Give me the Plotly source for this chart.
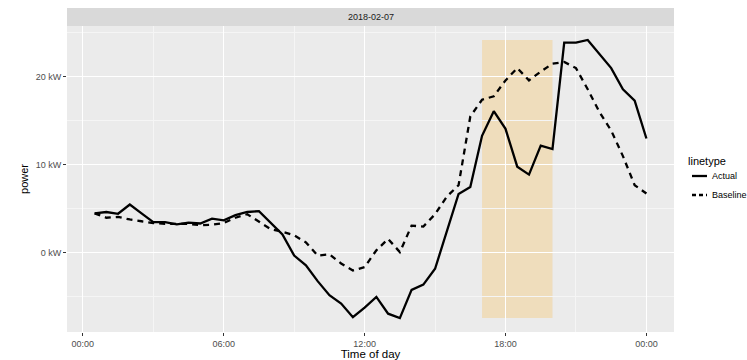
import plotly.graph_objects as go

time_labels = ["00:30", "01:00", "01:30", "02:00", "02:30", "03:00", "03:30", "04:00",
               "04:30", "05:00", "05:30", "06:00", "06:30", "07:00", "07:30", "08:00",
               "08:30", "09:00", "09:30", "10:00", "10:30", "11:00", "11:30", "12:00",
               "12:30", "13:00", "13:30", "14:00", "14:30", "15:00", "15:30", "16:00",
               "16:30", "17:00", "17:30", "18:00", "18:30", "19:00", "19:30", "20:00",
               "20:30", "21:00", "21:30", "22:00", "22:30", "23:00", "23:30", "24:00"]

actual = [4.5, 4.65, 4.45, 5.5, 4.5, 3.5, 3.5, 3.25,
          3.45, 3.35, 3.9, 3.7, 4.3, 4.65, 4.75, 3.4,
          2.1, -0.3, -1.4, -3.2, -4.8, -5.75, -7.3, -6.2,
          -5.0, -6.9, -7.4, -4.2, -3.6, -1.8, 2.4, 6.7,
          7.5, 13.3, 16.1, 14.1, 9.8, 8.9, 12.2, 11.8,
          23.9, 23.9, 24.2, 22.6, 21.0, 18.6, 17.3, 13.0]

baseline = [4.5, 4.0, 4.1, 3.8, 3.6, 3.4, 3.3, 3.3,
            3.3, 3.15, 3.2, 3.4, 4.0, 4.4, 3.5, 2.7,
            2.4, 2.0, 1.2, -0.3, -0.15, -1.2, -2.0, -1.6,
            0.3, 1.6, 0.1, 3.1, 3.0, 4.4, 6.4, 7.7,
            15.5, 17.4, 17.8, 19.6, 21.0, 19.6, 20.6, 21.5,
            21.7, 21.0, 18.6, 16.0, 13.9, 11.0, 7.7, 6.75]

series_names = ["Actual", "Baseline"]
legend_title = "linetype"
event_start = "17:00"
event_end = "20:00"
x_tick_labels = ["00:00", "06:00", "12:00", "18:00", "00:00"]
x_tick_hours = [0, 6, 12, 18, 24]
y_tick_vals = [0, 10, 20]
y_tick_labels = ["0 kW", "10 kW", "20 kW"]
facet_label = "2018-02-07"

W, H = 747, 360
ML, MR, MT, MB = 67, 73, 26, 28
PW, PH = W - ML - MR, H - MT - MB


def to_hours(s):
    h, m = s.split(":")
    return int(h) + int(m) / 60.0


def px_x(px):
    return (px - ML) / PW


def px_y(py):
    return (H - MB - py) / PH


hours = [to_hours(t) for t in time_labels]

xmin, xmax = min(hours), max(hours)
xpad = 0.05 * (xmax - xmin)
ymin, ymax = min(actual + baseline), max(actual + baseline)
ypad = 0.05 * (ymax - ymin)

dashes = ["solid", "6px,5px"]
fig = go.Figure()
for name, vals, dash in zip(series_names, [actual, baseline], dashes):
    fig.add_trace(go.Scatter(x=hours, y=vals, mode="lines", name=name, showlegend=False,
                             line=dict(color="black", width=2.3, dash=dash)))

fig.add_shape(type="rect", xref="x", yref="y",
              x0=to_hours(event_start), x1=to_hours(event_end),
              y0=min(actual), y1=max(actual),
              fillcolor="rgba(255,165,0,0.2)", line=dict(width=0), layer="below")

# facet strip
strip_h = 18 / PH
fig.add_shape(type="rect", xref="paper", yref="paper", x0=0, x1=1, y0=1, y1=1 + strip_h,
              fillcolor="#D9D9D9", line=dict(width=0))
fig.add_annotation(text=facet_label, xref="paper", yref="paper", x=0.5, y=1 + strip_h / 2,
                   showarrow=False, font=dict(size=9, color="#1A1A1A"),
                   xanchor="center", yanchor="middle")

# legend drawn manually (ggplot-style short keys)
fig.add_annotation(text=legend_title, xref="paper", yref="paper", x=px_x(686), y=px_y(161),
                   showarrow=False, font=dict(size=11, color="black"),
                   xanchor="left", yanchor="middle")
for i, (name, dash) in enumerate(zip(series_names, dashes)):
    yy = px_y(176 + i * 19)
    fig.add_shape(type="line", xref="paper", yref="paper", x0=px_x(692), x1=px_x(707),
                  y0=yy, y1=yy, line=dict(color="black", width=2.3,
                                          dash="4px,3px" if dash != "solid" else "solid"))
    fig.add_annotation(text=name, xref="paper", yref="paper", x=px_x(710), y=yy,
                       showarrow=False, font=dict(size=9, color="black"),
                       xanchor="left", yanchor="middle")

fig.update_layout(
    width=W, height=H,
    margin=dict(l=ML, r=MR, t=MT, b=MB, autoexpand=False),
    paper_bgcolor="white", plot_bgcolor="#EBEBEB",
    font=dict(family="Liberation Sans, Arial, sans-serif", color="black"),
    showlegend=False,
)

fig.update_xaxes(
    range=[xmin - xpad, xmax + xpad], tickvals=x_tick_hours, ticktext=x_tick_labels,
    showgrid=True, gridcolor="white", gridwidth=1.1, zeroline=False, automargin=False,
    ticks="outside", ticklen=3, tickcolor="#333333", tickwidth=1,
    tickfont=dict(size=9, color="#4D4D4D"),
    minor=dict(tickvals=[3, 9, 15, 21], showgrid=True, gridcolor="#F5F5F5", gridwidth=0.6, ticks=""),
    title=dict(text="Time of day", font=dict(size=11.5, color="black"), standoff=4),
    showline=False,
)
fig.update_yaxes(
    range=[ymin - ypad, ymax + ypad], tickvals=y_tick_vals, ticktext=y_tick_labels,
    showgrid=True, gridcolor="white", gridwidth=1.1, zeroline=False, automargin=False,
    ticks="outside", ticklen=3, tickcolor="#333333", tickwidth=1,
    tickfont=dict(size=9, color="#4D4D4D"),
    minor=dict(tickvals=[-5, 5, 15, 25], showgrid=True, gridcolor="#F5F5F5", gridwidth=0.6, ticks=""),
    title=dict(text="power", font=dict(size=11, color="black"), standoff=4),
    showline=False,
)

fig.write_html("out.html", config={"displayModeBar": False},
               post_script="document.body.style.margin='0';document.body.style.overflow='hidden';")
